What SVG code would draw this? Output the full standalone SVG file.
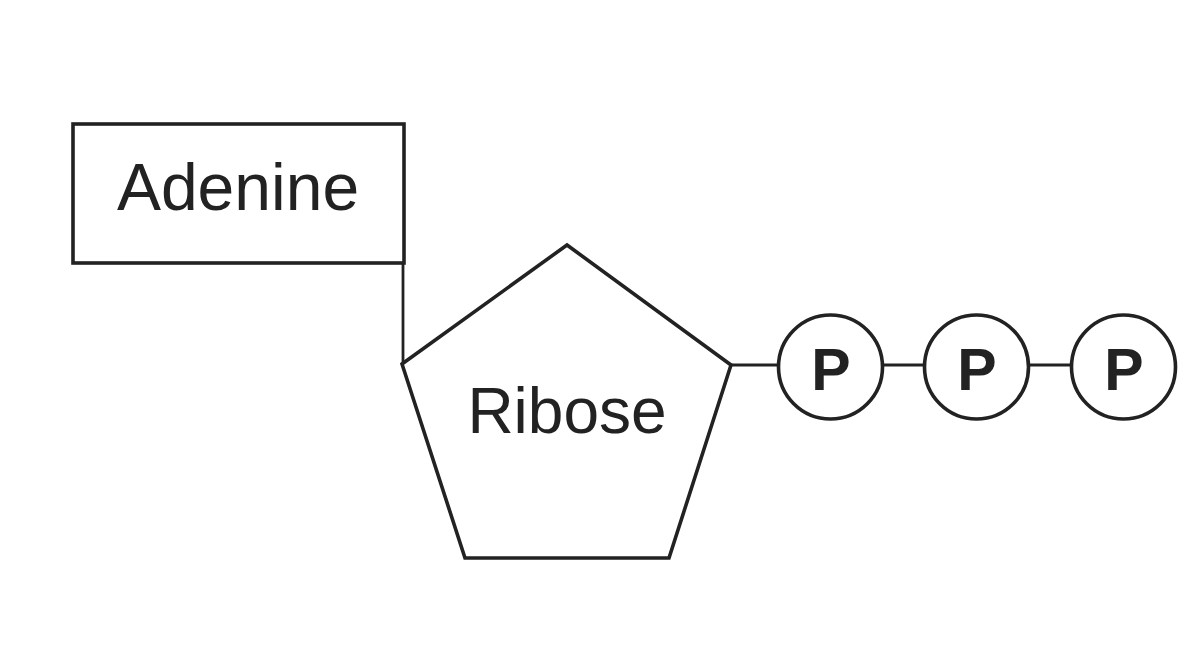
<svg xmlns="http://www.w3.org/2000/svg" width="1196" height="670" viewBox="0 0 1196 670">
<style>
.shape{fill:#fff;stroke:#222;stroke-width:3.6;stroke-linejoin:miter}
.conn{fill:none;stroke:#222;stroke-width:2.8}
.lbl{font-family:"Liberation Sans",Arial,sans-serif;font-size:64px;fill:#222;text-anchor:middle}
.p{font-family:"Liberation Sans",Arial,sans-serif;font-size:59px;font-weight:bold;fill:#222;text-anchor:middle}
</style>
<rect width="1196" height="670" fill="#fff"/>
<g id="connectors">
<line class="conn" x1="403" y1="263" x2="403" y2="364"/>
<line class="conn" x1="731" y1="365" x2="778" y2="365"/>
<line class="conn" x1="883" y1="365" x2="924" y2="365"/>
<line class="conn" x1="1029" y1="365" x2="1071" y2="365"/>
</g>
<g id="adenine">
<rect class="shape" x="73" y="124" width="331" height="139"/>
<text class="lbl" x="238" y="210" style="font-size:66px">Adenine</text>
</g>
<g id="ribose">
<polygon class="shape" points="567,245 731,365 669,558 465,558 402,364"/>
<text class="lbl" x="567" y="433">Ribose</text>
</g>
<g id="p1">
<circle class="shape" cx="830.5" cy="367" r="52"/>
<text class="p" x="831" y="390">P</text>
</g>
<g id="p2">
<circle class="shape" cx="976.5" cy="367" r="52"/>
<text class="p" x="977" y="390">P</text>
</g>
<g id="p3">
<circle class="shape" cx="1123.5" cy="367" r="52"/>
<text class="p" x="1124" y="390">P</text>
</g>
</svg>
